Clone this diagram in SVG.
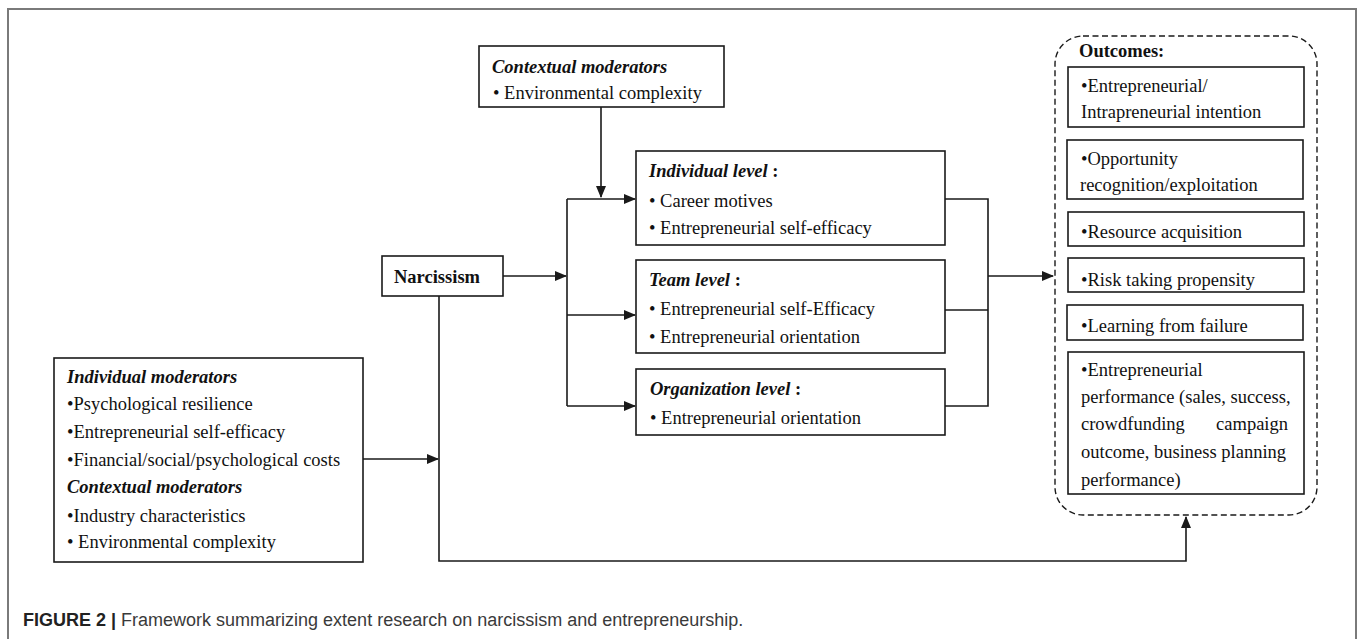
<svg xmlns="http://www.w3.org/2000/svg" width="1357" height="639" viewBox="0 0 1357 639">
<style>
.box{fill:#fff;stroke:#1a1a1a;stroke-width:1.6}
.t{font-family:"Liberation Serif","Times New Roman",serif;font-size:18.5px;fill:#111}
.bi{font-weight:bold;font-style:italic}
.b{font-weight:bold}
.c{fill:none;stroke:#1a1a1a;stroke-width:1.6}
.cap{font-family:"Liberation Sans",Arial,sans-serif;font-size:18px;fill:#3a3a3a}
</style>
<defs>
<marker id="ah" markerWidth="12" markerHeight="10" refX="11" refY="5" orient="auto" markerUnits="userSpaceOnUse">
<path d="M0,0 L12,5 L0,10 Z" fill="#1a1a1a"/>
</marker>
</defs>
<rect x="0" y="0" width="1357" height="639" fill="#fff"/>
<path d="M8,639 V9 H1356 V639" fill="none" stroke="#7a7a7a" stroke-width="2"/>

<g id="connectors">
<path class="c" d="M601,107 V197" marker-end="url(#ah)"/>
<path class="c" d="M503,276 H566" marker-end="url(#ah)"/>
<path class="c" d="M567,199 V406"/>
<path class="c" d="M567,199 H635" marker-end="url(#ah)"/>
<path class="c" d="M567,315 H635" marker-end="url(#ah)"/>
<path class="c" d="M567,406 H635" marker-end="url(#ah)"/>
<path class="c" d="M945,199 H988 V406 H945"/>
<path class="c" d="M945,310 H988"/>
<path class="c" d="M988,276 H1053" marker-end="url(#ah)"/>
<path class="c" d="M363,459 H438" marker-end="url(#ah)"/>
<path class="c" d="M439,296 V561 H1186 V517" marker-end="url(#ah)"/>
</g>

<g id="contextual-top">
<rect class="box" x="479" y="46" width="245" height="61"/>
<text class="t" x="492" y="73"><tspan class="bi">Contextual moderators</tspan></text>
<text class="t" x="493" y="99">• Environmental complexity</text>
</g>

<g id="narcissism">
<rect class="box" x="382" y="256" width="121" height="40"/>
<text class="t b" x="394" y="283">Narcissism</text>
</g>

<g id="individual-level">
<rect class="box" x="636" y="151" width="309" height="94"/>
<text class="t" x="649" y="177"><tspan class="bi">Individual level</tspan><tspan class="b"> :</tspan></text>
<text class="t" x="649" y="207">• Career motives</text>
<text class="t" x="649" y="234">• Entrepreneurial self-efficacy</text>
</g>

<g id="team-level">
<rect class="box" x="636" y="260" width="309" height="93"/>
<text class="t" x="649" y="286"><tspan class="bi">Team level</tspan><tspan class="b"> :</tspan></text>
<text class="t" x="649" y="315">• Entrepreneurial self-Efficacy</text>
<text class="t" x="649" y="343">• Entrepreneurial orientation</text>
</g>

<g id="organization-level">
<rect class="box" x="636" y="369" width="309" height="66"/>
<text class="t" x="650" y="395"><tspan class="bi">Organization level</tspan><tspan class="b"> :</tspan></text>
<text class="t" x="650" y="424">• Entrepreneurial orientation</text>
</g>

<g id="moderators-left">
<rect class="box" x="54" y="358" width="309" height="204"/>
<text class="t bi" x="67" y="383">Individual moderators</text>
<text class="t" x="67" y="410">•Psychological resilience</text>
<text class="t" x="67" y="438">•Entrepreneurial self-efficacy</text>
<text class="t" x="67" y="466">•Financial/social/psychological costs</text>
<text class="t bi" x="67" y="493">Contextual moderators</text>
<text class="t" x="67" y="522">•Industry characteristics</text>
<text class="t" x="67" y="548">• Environmental complexity</text>
</g>

<g id="outcomes">
<rect x="1055" y="36" width="262" height="479" rx="28" ry="28" fill="none" stroke="#1a1a1a" stroke-width="1.4" stroke-dasharray="6,3.5"/>
<text class="t b" x="1079" y="57">Outcomes:</text>
<rect class="box" x="1068" y="67" width="236" height="60"/>
<text class="t" x="1081" y="92">•Entrepreneurial/</text>
<text class="t" x="1081" y="118">Intrapreneurial intention</text>
<rect class="box" x="1067" y="140" width="236" height="59"/>
<text class="t" x="1081" y="165">•Opportunity</text>
<text class="t" x="1080" y="191">recognition/exploitation</text>
<rect class="box" x="1068" y="212" width="236" height="34"/>
<text class="t" x="1081" y="238">•Resource acquisition</text>
<rect class="box" x="1068" y="258" width="236" height="34"/>
<text class="t" x="1081" y="286">•Risk taking propensity</text>
<rect class="box" x="1067" y="305" width="236" height="35"/>
<text class="t" x="1081" y="332">•Learning from failure</text>
<rect class="box" x="1068" y="352" width="236" height="142"/>
<text class="t" x="1081" y="376">•Entrepreneurial</text>
<text class="t" x="1081" y="403">performance (sales, success,</text>
<text class="t" x="1081" y="430">crowdfunding<tspan x="1288" text-anchor="end">campaign</tspan></text>
<text class="t" x="1081" y="458">outcome, business planning</text>
<text class="t" x="1081" y="486">performance)</text>
</g>

<g id="caption">
<text class="cap" x="23" y="626"><tspan font-weight="bold" fill="#222">FIGURE 2 |</tspan> Framework summarizing extent research on narcissism and entrepreneurship.</text>
</g>
</svg>
